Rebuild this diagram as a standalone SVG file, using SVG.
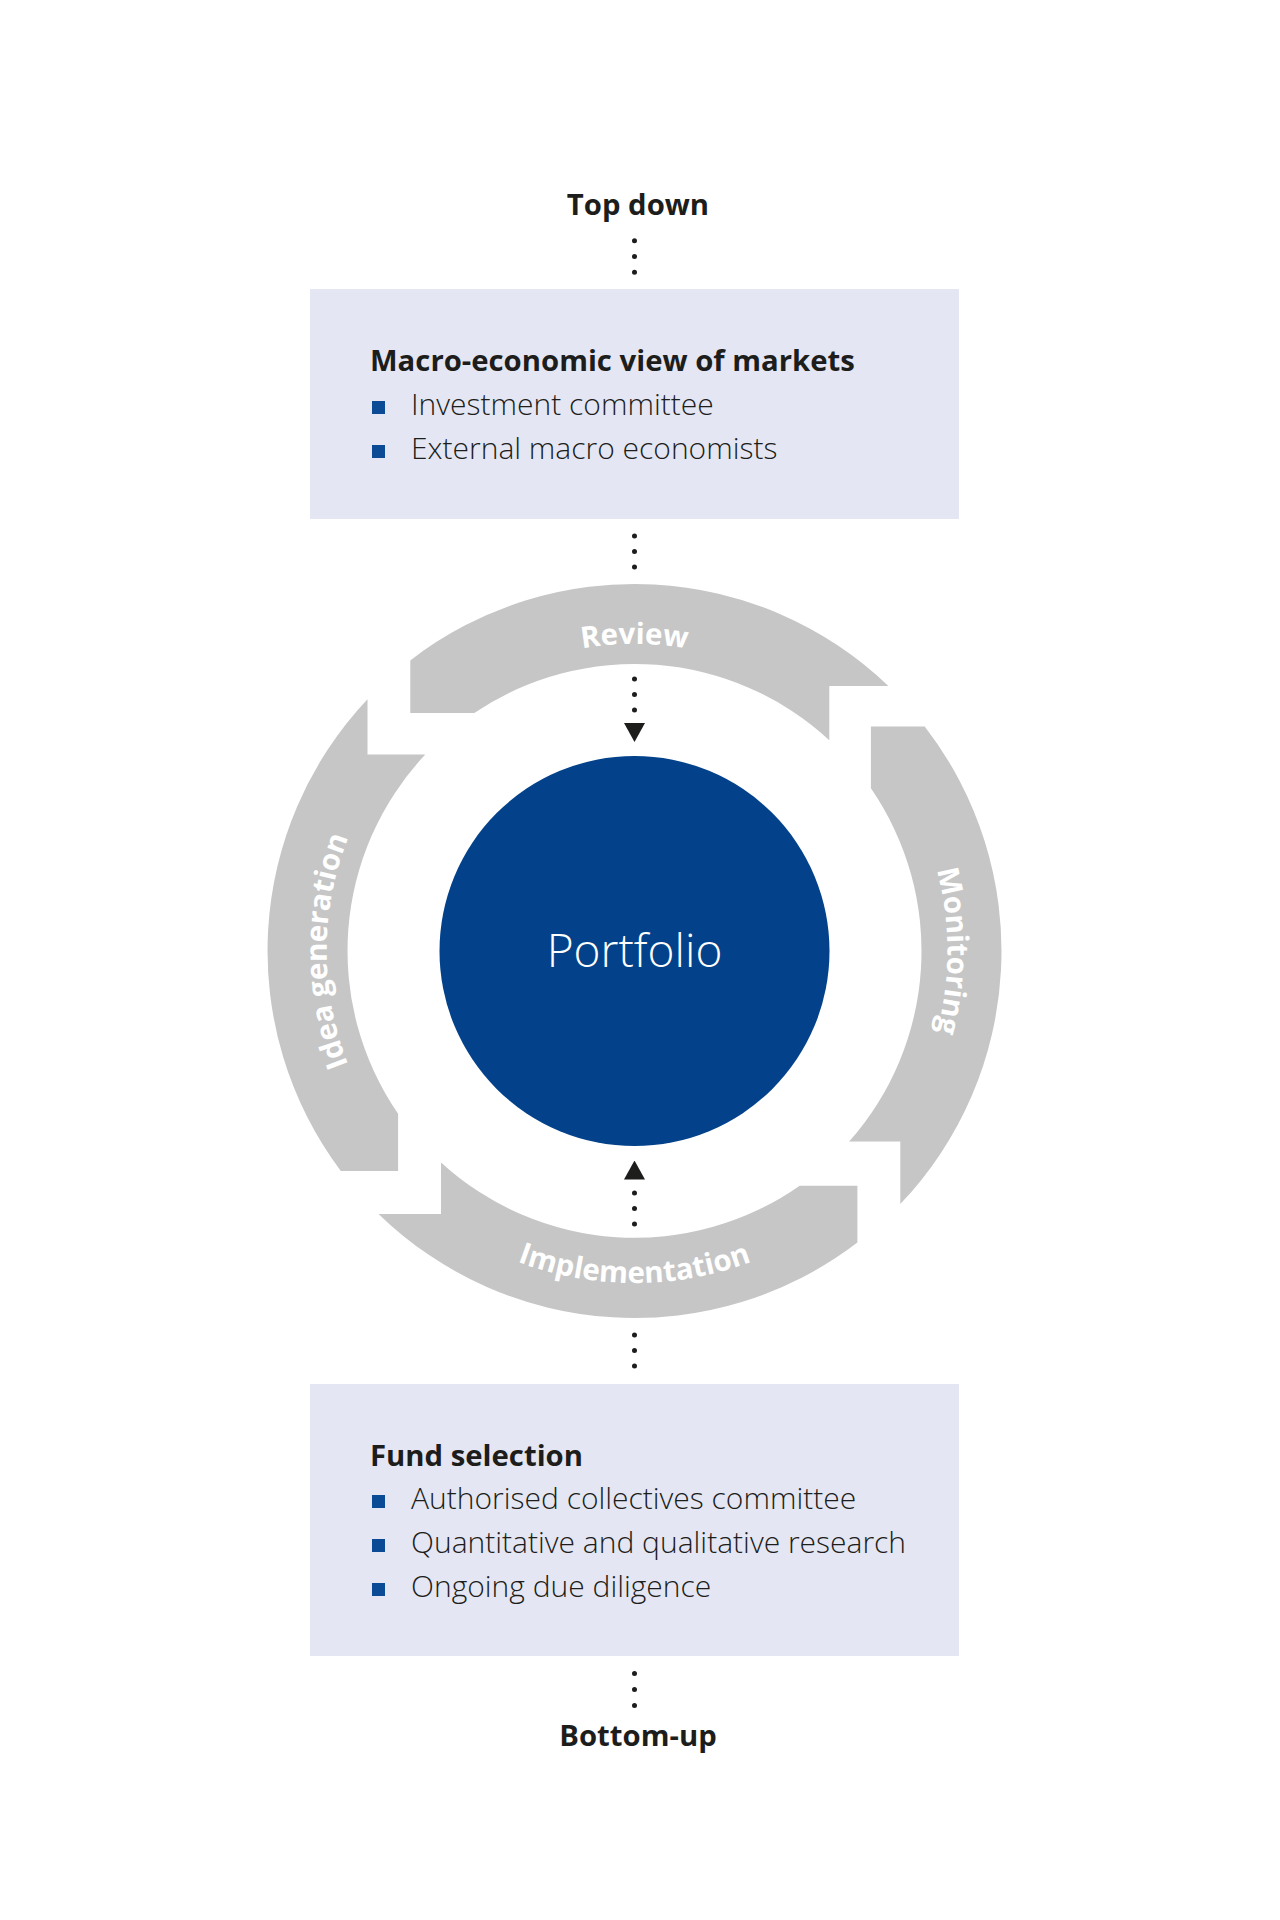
<svg xmlns="http://www.w3.org/2000/svg" width="1280" height="1920" viewBox="0 0 1280 1920">
<style>
.bg{fill:#ffffff}
.box{fill:#e4e7f3}
.ring{fill:#c6c6c6}
.hub{fill:#03428a}
.bul{fill:#0b4a94}
.head{font-family:"Open Sans","Liberation Sans",sans-serif;font-weight:700;font-size:29.3px;fill:#1d1d1b}
.body{font-family:"Open Sans","Liberation Sans",sans-serif;font-weight:300;font-size:30px;fill:#1d1d1b}
.lbl{font-family:"Open Sans","Liberation Sans",sans-serif;font-weight:700;font-size:29.5px;fill:#ffffff}
.port{font-family:"Open Sans","Liberation Sans",sans-serif;font-weight:300;font-size:46px;fill:#ffffff}
.dots{stroke:#1d1d1b;stroke-width:5;stroke-linecap:round;fill:none}
</style>
<defs>
<marker id="tri" markerUnits="userSpaceOnUse" markerWidth="19" markerHeight="21" refX="0" refY="10.5" orient="auto" viewBox="0 0 19 21">
<path d="M0,0 L19,10.5 L0,21 Z" fill="#1d1d1b"/>
</marker>
<path id="pReview" d="M341.4,845.3 A314,314 0 0 1 927.6,845.3"/>
<path id="pMonitor" d="M741.6,656.9 A313,313 0 0 1 741.6,1245.1"/>
<path id="pIdea" d="M529.2,1240.4 A308,308 0 0 1 529.2,661.6"/>
<path id="pImpl" d="M322.5,1064.5 A332,332 0 0 0 946.5,1064.5"/>
</defs>
<rect class="bg" x="0" y="0" width="1280" height="1920"/>

<g id="connectors">
<line class="dots" x1="634.5" y1="240.7" x2="634.5" y2="274" stroke-dasharray="0 15.8"/>
<line class="dots" x1="634.5" y1="536" x2="634.5" y2="569" stroke-dasharray="0 15.5"/>
<line class="dots" x1="634.5" y1="679" x2="634.5" y2="723" stroke-dasharray="0 15.5" marker-end="url(#tri)"/>
<line class="dots" x1="634.5" y1="1224" x2="634.5" y2="1179.5" stroke-dasharray="0 15.5" marker-end="url(#tri)"/>
<line class="dots" x1="634.5" y1="1335" x2="634.5" y2="1368" stroke-dasharray="0 15.5"/>
<line class="dots" x1="634.5" y1="1673.5" x2="634.5" y2="1707.5" stroke-dasharray="0 16"/>
</g>

<g id="top-label">
<text class="head" x="638" y="215" text-anchor="middle">Top down</text>
</g>

<g id="macro-box">
<rect class="box" x="310" y="289" width="649" height="230"/>
<text class="head" x="370" y="371">Macro-economic view of markets</text>
<rect class="bul" x="372" y="401" width="13" height="13"/>
<text class="body" x="411" y="415">Investment committee</text>
<rect class="bul" x="372" y="445" width="13" height="13"/>
<text class="body" x="411" y="459">External macro economists</text>
</g>

<g id="review">
<path class="ring" d="M410.3,660.4 A367,367 0 0 1 888.4,686 L829.3,686 L829.3,740.2 A287,287 0 0 0 474.3,712.9 L410.3,712.9 Z"/>
<text class="lbl" text-anchor="middle"><textPath href="#pReview" startOffset="50%">Review</textPath></text>
</g>

<g id="monitoring">
<path class="ring" d="M924.7,726.4 A367,367 0 0 1 900.3,1204.1 L900.3,1141.6 L849.1,1141.6 A287,287 0 0 0 870.9,788.3 L870.9,726.4 Z"/>
<text class="lbl" text-anchor="middle"><textPath href="#pMonitor" startOffset="50%">Monitoring</textPath></text>
</g>

<g id="implementation">
<path class="ring" d="M857.4,1242.6 A367,367 0 0 1 378.5,1213.9 L441,1213.9 L441,1162.5 A287,287 0 0 0 799.7,1185.7 L857.4,1185.7 Z"/>
<text class="lbl" text-anchor="middle"><textPath href="#pImpl" startOffset="50%">Implementation</textPath></text>
</g>

<g id="idea-generation">
<path class="ring" d="M340.8,1171 A367,367 0 0 1 367.5,699.2 L367.5,754.5 L425.3,754.5 A287,287 0 0 0 398.1,1113.7 L398.1,1171 Z"/>
<text class="lbl" text-anchor="middle"><textPath href="#pIdea" startOffset="50%">Idea generation</textPath></text>
</g>

<g id="portfolio">
<circle class="hub" cx="634.5" cy="951" r="195"/>
<text class="port" x="634.5" y="967" text-anchor="middle">Portfolio</text>
</g>

<g id="fund-box">
<rect class="box" x="310" y="1384" width="649" height="272"/>
<text class="head" x="370" y="1466">Fund selection</text>
<rect class="bul" x="372" y="1495" width="13" height="13"/>
<text class="body" x="411" y="1509">Authorised collectives committee</text>
<rect class="bul" x="372" y="1539" width="13" height="13"/>
<text class="body" x="411" y="1553">Quantitative and qualitative research</text>
<rect class="bul" x="372" y="1583" width="13" height="13"/>
<text class="body" x="411" y="1597">Ongoing due diligence</text>
</g>

<g id="bottom-label">
<text class="head" x="638" y="1746" text-anchor="middle">Bottom-up</text>
</g>
</svg>
